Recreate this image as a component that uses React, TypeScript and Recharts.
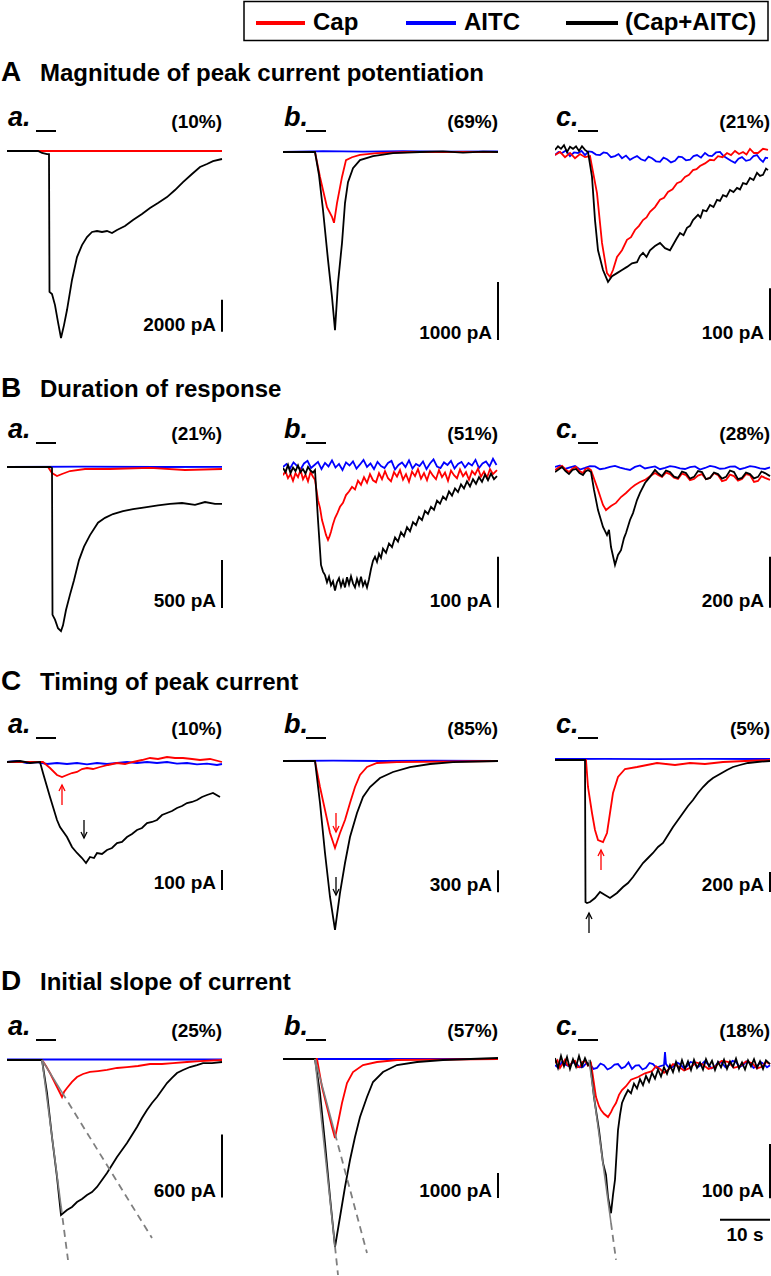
import { LineChart, Line, XAxis, YAxis, ReferenceLine, ReferenceDot } from 'recharts';

type Pt = [number, number]; // [time in s, current in pA]

const RED = '#ff0000';
const BLUE = '#0000ff';
const BLACK = '#000000';
const GREY = '#7f7f7f';
const FONT = "'Liberation Sans', Arial, Helvetica, sans-serif";

// ---------- A: magnitude of peak current potentiation ----------
const aaCap: Pt[] = [[0, 0], [10, 0], [25, 0], [43, 0]];
const aaAitc: Pt[] = [[0, 0], [43, 0]];
const aaMix: Pt[] = [[0, 0], [6.2, 0], [7, -125], [8, -190], [8.4, -190], [8.5, -8800], [9, -8940], [9.6, -9630], [10.2, -10690], [10.8, -11690], [11.4, -10880], [12, -9940], [13, -8060], [14, -6630], [15, -5880], [16, -5380], [17, -5060], [18, -5000], [19, -5060], [20, -5000], [21, -5130], [22, -4940], [23.6, -4690], [25.2, -4310], [27, -3940], [28.6, -3560], [30.2, -3250], [32, -2880], [33.6, -2440], [35.2, -1940], [37, -1440], [38.6, -1000], [40, -810], [41.2, -630], [43, -500]];

const abCap: Pt[] = [[0, 0], [6.4, 0], [7.4, -430], [8.8, -950], [9.8, -1120], [10.2, -1220], [10.8, -880], [11.8, -430], [12.6, -140], [13.8, -90], [15.4, -50], [18.8, -20], [25, 0], [43, 0]];
const abAitc: Pt[] = [[0, 0], [8, 15], [16, 5], [24, 15], [32, 5], [43, 10]];
const abMix: Pt[] = [[0, 0], [6.4, 0], [7.2, -400], [8, -1000], [9, -1860], [9.8, -2500], [10.4, -3070], [11, -2260], [11.8, -1570], [12.4, -880], [13, -520], [14, -280], [15.4, -140], [18, -70], [22, -20], [27.4, 0], [32, 10], [36, -10], [40, 5], [43, 0]];

const acCap: Pt[] = [[0, -4], [1, 2], [2, -8], [3, 0], [4, -10], [5, -2], [6, -8], [7, -6], [8.4, -77], [9.4, -173], [10.4, -231], [11, -238], [11.6, -225], [12.4, -200], [13.4, -187], [14.4, -167], [15.2, -162], [16, -148], [16.8, -140], [17.6, -129], [18.3, -124], [19, -113], [20, -104], [21, -90], [21.8, -86], [22.6, -75], [23.5, -70], [24.4, -58], [25.2, -55], [26, -46], [26.8, -42], [27.6, -33], [28.3, -31], [29, -25], [30, -20], [31, -13], [31.8, -14], [32.6, -6], [33.5, -8], [34.4, 0], [35.2, -4], [36, 4], [36.8, -2], [37.6, 2], [38.3, -3], [39, 8], [39.8, 0], [40.6, 0], [41.6, 8], [42.6, 6]];
const acAitc: Pt[] = [[0, -4], [0.7, 2], [1.4, 0], [2.2, 5], [3, -6], [3.8, 1], [4.6, 0], [5.3, 4], [6, -4], [6.7, 3], [7.4, 2], [8.2, -3], [9, -4], [9.7, 1], [10.4, 0], [11.2, -8], [12, -6], [12.7, -2], [13.4, -10], [14.2, -5], [15, -13], [15.7, -9], [16.4, -6], [17.2, -12], [18, -15], [18.7, -7], [19.4, -10], [20.2, -16], [21, -17], [21.7, -9], [22.4, -12], [23.2, -18], [24, -15], [24.7, -7], [25.4, -8], [26.2, -14], [27, -13], [27.7, -6], [28.4, -4], [29.2, -9], [30, 0], [30.7, -5], [31.4, -6], [32.2, 1], [33, 2], [33.7, -6], [34.4, -10], [35.2, -15], [36, -19], [36.7, -11], [37.4, -8], [38.2, -15], [39, -13], [39.7, -6], [40.4, -4], [41, -12], [41.6, -17], [42.1, -9], [42.6, -10]];
const acMix: Pt[] = [[0, 6], [0.6, 13], [1.2, 8], [1.8, 15], [2.4, 2], [3, 12], [3.6, 8], [4.2, 13], [4.8, 4], [5.4, 13], [6, 6], [6.6, 2], [7.4, -46], [8, -129], [8.6, -187], [9.6, -225], [10.6, -248], [11.4, -237], [12.4, -231], [13.4, -225], [14.4, -219], [15.4, -212], [16.4, -210], [17, -198], [17.6, -192], [18.3, -200], [19, -187], [20, -179], [21, -173], [22, -183], [23, -187], [23.6, -177], [24.3, -165], [25, -154], [25.7, -158], [26.4, -144], [27, -140], [27.6, -129], [28.6, -119], [29.1, -124], [29.6, -110], [30.3, -112], [31, -100], [31.7, -104], [32.4, -90], [33, -92], [33.6, -81], [34.3, -84], [35, -71], [35.7, -75], [36.4, -67], [37, -70], [37.6, -58], [38.3, -60], [39, -48], [39.7, -52], [40.4, -38], [41, -44], [41.6, -42], [42.2, -30], [42.6, -33]];

// ---------- B: duration of response ----------
const baCap: Pt[] = [[0, 0], [8.2, 0], [9, -63], [10, -94], [11, -73], [12.6, -42], [15.6, -21], [20.6, -21], [28.6, -10], [35.6, -31], [43, -21]];
const baAitc: Pt[] = [[0, 0], [15, 3], [30, 0], [43, 2]];
const baMix: Pt[] = [[0, 0], [8.6, 0], [9, -10], [9.1, -1540], [9.6, -1590], [10.2, -1680], [10.8, -1710], [11.2, -1650], [11.8, -1490], [12.6, -1330], [13.4, -1180], [14.4, -970], [15.4, -830], [16.6, -710], [18.2, -580], [19.6, -530], [21.2, -490], [23.2, -460], [25.2, -440], [27.6, -420], [30.2, -400], [32.6, -385], [35, -375], [37.6, -395], [39.6, -365], [41.6, -385], [43, -385]];

const bbCap: Pt[] = [[0, -16], [0.5, -8], [1, -22], [1.5, -14], [2, -27], [2.5, -12], [3, -20], [3.5, -6], [4, -24], [4.5, -15], [5, -28], [5.5, -10], [6, -19], [6.4, -25], [7, -65], [7.4, -80], [7.8, -104], [8.2, -118], [8.6, -133], [9, -143], [9.3, -136], [9.6, -127], [10, -112], [10.4, -100], [10.9, -90], [11.4, -78], [12, -70], [12.6, -55], [13.2, -48], [13.8, -39], [14.4, -44], [15, -27], [15.6, -35], [16.2, -20], [16.8, -31], [17.4, -14], [18, -26], [18.6, -30], [19.2, -12], [19.8, -24], [20.4, -8], [21, -22], [21.6, -28], [22.2, -10], [22.8, -19], [23.4, -6], [24, -25], [24.6, -14], [25.2, -29], [25.8, -9], [26.4, -18], [27, -4], [27.6, -23], [28.2, -12], [28.8, -26], [29.4, -8], [30, -17], [30.6, -24], [31.2, -6], [31.8, -20], [32.4, -11], [33, -27], [33.6, -7], [34.2, -16], [34.8, -22], [35.4, -5], [36, -18], [36.6, -10], [37.2, -25], [37.8, -8], [38.4, -15], [39, -3], [39.6, -19], [40.2, -9], [40.8, -21], [41.4, -4], [42, -14], [42.8, -6]];
const bbAitc: Pt[] = [[0, 0], [0.7, 6], [1.4, -3], [2.1, 9], [2.8, 2], [3.5, -5], [4.2, 7], [4.9, 12], [5.6, -2], [6.3, 4], [7, 10], [7.7, -4], [8.4, 8], [9.1, 1], [9.8, 13], [10.5, -1], [11.2, 6], [11.9, -6], [12.6, 9], [13.3, 3], [14, 11], [14.7, -3], [15.4, 5], [16.1, 14], [16.8, 0], [17.5, 7], [18.2, -4], [18.9, 10], [19.6, 2], [20.3, -2], [21, 8], [21.7, 12], [22.4, -5], [23.1, 4], [23.8, 9], [24.5, 0], [25.2, 13], [25.9, -3], [26.6, 6], [27.3, 2], [28, 11], [28.7, -4], [29.4, 7], [30.1, 15], [30.8, 1], [31.5, -2], [32.2, 9], [32.9, 4], [33.6, 12], [34.3, -3], [35, 6], [35.7, 10], [36.4, -1], [37.1, 8], [37.8, 3], [38.5, 14], [39.2, -2], [39.9, 7], [40.6, 11], [41.3, 1], [42, 16], [42.7, 4]];
const bbMix: Pt[] = [[0, -2], [0.5, -10], [1, 4], [1.5, -12], [2, -1], [2.5, -8], [3, 3], [3.5, -10], [4, -4], [4.5, -13], [5, 0], [5.5, -7], [6, -11], [6.4, -6], [7, -104], [7.6, -192], [8, -205], [8.4, -212], [8.8, -226], [9.2, -215], [9.6, -232], [10, -224], [10.4, -242], [10.8, -226], [11.2, -218], [11.6, -234], [12, -222], [12.4, -236], [12.8, -216], [13.2, -230], [13.6, -214], [14, -228], [14.4, -236], [14.8, -219], [15.2, -231], [15.6, -215], [16, -233], [16.4, -224], [16.8, -236], [17.2, -220], [17.6, -200], [18, -184], [18.4, -176], [18.8, -186], [19.2, -170], [19.6, -178], [20, -160], [20.6, -168], [21.2, -150], [21.8, -157], [22.4, -138], [23, -146], [23.6, -128], [24.2, -136], [24.8, -118], [25.4, -126], [26, -108], [26.6, -114], [27.2, -98], [27.8, -104], [28.4, -86], [29, -92], [29.6, -78], [30.2, -84], [30.8, -66], [31.4, -72], [32, -58], [32.6, -64], [33.2, -48], [33.8, -56], [34.4, -42], [35, -49], [35.6, -34], [36.2, -42], [36.8, -28], [37.4, -38], [38, -24], [38.6, -33], [39.2, -20], [39.8, -29], [40.4, -15], [41, -26], [41.6, -13], [42.2, -24], [42.8, -18]];

const bcCap: Pt[] = [[0, 0], [0.7, 10], [1.4, 16], [2.1, 2], [2.8, -8], [3.5, 6], [4.2, 12], [4.9, -4], [5.6, -12], [6.1, 4], [6.6, 8], [7.2, 0], [8.6, -78], [9.6, -137], [10.2, -157], [11.2, -141], [12.2, -129], [13.2, -106], [14.2, -90], [15.2, -71], [16, -59], [17, -47], [18, -39], [19, -24], [20, -12], [20.7, -20], [21.4, -27], [22.2, -10], [23, -16], [23.8, -30], [24.6, -35], [25.4, -14], [26.2, -20], [27, -40], [27.8, -35], [28.6, -22], [29.4, -16], [30.2, -36], [31, -31], [31.8, -12], [32.6, -20], [33.4, -44], [34.2, -39], [35, -18], [35.8, -24], [36.6, -42], [37.4, -35], [38.2, -16], [39, -20], [39.8, -47], [40.6, -43], [41.3, -24], [42, -31], [43, -39]];
const bcAitc: Pt[] = [[0, 12], [1, 18], [2, 4], [3, 10], [4, 16], [5, 2], [6, 8], [7, 15], [8, 14], [9, 3], [10, 6], [11, 12], [12, 16], [13, 9], [14, 4], [15, 0], [16, 12], [17, 18], [18, 6], [19, 10], [20, 14], [21, 3], [22, 8], [23, 15], [24, 12], [25, 6], [26, 4], [27, 11], [28, 14], [29, 2], [30, 8], [31, 16], [32, 12], [33, 5], [34, 6], [35, 13], [36, 14], [37, 3], [38, 8], [39, 15], [40, 12], [41, 6], [42, 4], [43, 10]];
const bcMix: Pt[] = [[0, -8], [0.7, 2], [1.4, 12], [2.1, -4], [2.8, -16], [3.5, 0], [4.2, 4], [4.9, -12], [5.6, -20], [6.1, -6], [6.6, 0], [7.2, -8], [7.8, -78], [8.6, -157], [9.6, -223], [10.4, -255], [10.8, -235], [11.2, -302], [12, -372], [12.6, -333], [13.2, -314], [13.8, -267], [14.2, -247], [15, -196], [15.6, -169], [16.4, -118], [17, -90], [18, -51], [19, -27], [20, 0], [20.7, -14], [21.4, -24], [22.2, -2], [23, -8], [23.8, -26], [24.6, -31], [25.4, -6], [26.2, -12], [27, -34], [27.8, -27], [28.6, -4], [29.4, -8], [30.2, -36], [31, -31], [31.8, -10], [32.6, -16], [33.4, -34], [34.2, -27], [35, -2], [35.8, -8], [36.6, -36], [37.4, -31], [38.2, -10], [39, -16], [39.8, -33], [40.6, -27], [41.3, -6], [42, -12], [43, -24]];

// ---------- C: timing of peak current ----------
const caCap: Pt[] = [[0, 0], [7.2, 0], [8.6, -30], [10, -65], [11, -75], [12, -65], [13, -55], [14, -50], [15, -35], [16, -30], [17.2, -35], [18.6, -25], [20.2, -15], [22, -5], [23.6, -10], [25.2, 0], [27, 10], [28.6, 20], [30.2, 15], [32, 25], [33.6, 20], [35.2, 20], [37, 15], [38.6, 10], [40.6, 15], [43, 0]];
const caAitc: Pt[] = [[0, 0], [2, 5], [4, -5], [6, 0], [8, -10], [10, -5], [12, -10], [14, -5], [16, -12], [18, -5], [20, -10], [22, -5], [24, 0], [26, -5], [28, 0], [30, -5], [32, 0], [34, -8], [36, -5], [38, -12], [40, -8], [42, -15], [43, -10]];
const caMix: Pt[] = [[0, 0], [2.6, 5], [4.6, -5], [6.6, 0], [7.2, -55], [8.6, -175], [10, -290], [10.6, -325], [12, -375], [13, -425], [14, -455], [15, -480], [15.8, -505], [16.6, -475], [17.4, -480], [18, -455], [19, -460], [20, -440], [21, -430], [22, -405], [23, -400], [24, -375], [25, -360], [26, -340], [27, -330], [28, -305], [29, -300], [30, -290], [31, -265], [32, -255], [33, -245], [34, -230], [35, -220], [36, -205], [37, -200], [38, -190], [39, -175], [40, -165], [41.2, -155], [42.6, -175]];

const cbCap: Pt[] = [[0, 0], [6.4, 0], [7.4, -355], [8.4, -668], [9.4, -982], [10.4, -1187], [11.4, -982], [12.4, -805], [13.4, -573], [14.4, -355], [15.4, -191], [16.8, -82], [18.8, -27], [22.8, -14], [43, 0]];
const cbAitc: Pt[] = [[0, 0], [10, 6], [20, 0], [30, 6], [43, 3]];
const cbMix: Pt[] = [[0, 0], [6.4, 0], [7.4, -573], [8.4, -1255], [9.4, -1855], [10.4, -2305], [11.4, -1800], [12.4, -1391], [13.4, -1037], [14.8, -709], [16, -491], [17.4, -355], [19.4, -232], [22, -150], [25.4, -82], [29.4, -41], [34, -14], [43, 0]];

const ccCap: Pt[] = [[0, 0], [6.2, 0], [6.6, -270], [7.4, -530], [8, -700], [8.6, -800], [9.6, -820], [10.4, -730], [11, -530], [11.6, -330], [12.6, -170], [14, -90], [16.4, -70], [20.4, -30], [24, -50], [27, -30], [30, -40], [33.6, -20], [38, -10], [43, 0]];
const ccAitc: Pt[] = [[0, 10], [10, 12], [20, 8], [30, 12], [43, 10]];
const ccMix: Pt[] = [[0, 0], [6, 0], [6.1, -1420], [6.4, -1430], [7, -1420], [8, -1380], [9, -1320], [10, -1350], [11, -1380], [12.4, -1330], [13.6, -1270], [14.6, -1230], [15.6, -1170], [16.6, -1100], [17.6, -1030], [18.6, -980], [19.6, -930], [20.6, -870], [21.6, -830], [22.6, -750], [23.6, -670], [24.6, -600], [25.6, -530], [26.6, -460], [27.6, -400], [28.6, -330], [29.6, -270], [30.6, -220], [31.6, -180], [33, -140], [34.4, -100], [35.6, -70], [37, -50], [38.6, -30], [40.4, -20], [43, -10]];

// ---------- D: initial slope of current ----------
const daCap: Pt[] = [[0, 0], [7, 0], [7.8, -57], [8.6, -124], [9.4, -200], [10, -257], [11, -352], [11.4, -305], [12, -267], [13, -209], [14, -162], [15.2, -133], [16.6, -114], [18.2, -105], [20, -95], [22, -76], [24, -67], [26.2, -57], [28.6, -38], [31, -38], [33.2, -29], [36, -19], [38.6, -10], [43, 0]];
const daAitc: Pt[] = [[0, 5], [43, 5]];
const daMix: Pt[] = [[0, 0], [7, 0], [8, -314], [9, -733], [10, -1114], [10.8, -1476], [12, -1428], [13, -1399], [14, -1352], [15, -1323], [16, -1285], [17, -1257], [18, -1209], [19, -1142], [20, -1076], [21, -1000], [22, -923], [23, -857], [24, -790], [25, -714], [26, -638], [27, -552], [28, -476], [29, -409], [30, -352], [31, -286], [32, -219], [33, -171], [34, -124], [35.2, -95], [36.6, -67], [38, -48], [39.2, -29], [41, -29], [43, -19]];

const dbCap: Pt[] = [[0, 0], [6.8, 0], [7.8, -1120], [8.8, -1920], [9.8, -2720], [10.4, -3160], [11, -2560], [11.8, -1760], [12.8, -960], [14, -520], [16, -240], [18.8, -120], [22.8, -40], [43, 0]];
const dbAitc: Pt[] = [[0, 0], [43, 0]];
const dbMix: Pt[] = [[0, 0], [6.4, 0], [7.4, -1360], [8.4, -3360], [9.4, -5520], [10.4, -7520], [11.4, -6320], [12.4, -5120], [13.4, -4040], [14.4, -3120], [15.4, -2320], [16.8, -1520], [18, -920], [20, -520], [22.8, -240], [26.8, -120], [32, -40], [43, 40]];

const dcCap: Pt[] = [[0, 0], [0.5, 5], [1, -9], [1.5, -2], [2, 6], [2.5, -4], [3, -6], [3.5, 3], [4, 4], [4.5, -8], [5, -7], [5.5, 2], [6, 4], [6.6, -5], [7.2, 0], [8.2, -63], [8.8, -80], [9.2, -87], [9.8, -94], [10.6, -100], [11.2, -91], [11.6, -83], [12.2, -74], [12.8, -59], [13.4, -50], [14.2, -43], [15.2, -31], [16.6, -26], [18, -19], [19.4, -15], [20.2, -6], [21, -11], [21.8, -18], [22.6, -13], [23.6, -2], [24.6, -6], [25.8, -14], [27, -9], [28.2, 1], [29.4, -2], [30.7, -11], [32, -7], [33.3, 4], [34.6, 2], [35.8, -9], [37, -6], [38.2, 3], [39.4, 0], [40.4, -10], [41.4, -7], [42.2, 2], [43, -2]];
const dcAitc: Pt[] = [[0, -4], [0.7, -9], [1.4, 2], [2.1, -3], [2.8, -6], [3.5, 1], [4.2, 0], [4.9, -8], [5.6, -7], [6.3, 0], [7, -2], [7.7, -11], [8.4, -9], [9.1, -1], [9.8, -4], [10.5, -12], [11.2, -9], [11.9, -3], [12.6, -2], [13.3, -10], [14, -7], [14.7, 1], [15.4, -11], [16.1, -5], [16.8, -4], [17.5, -12], [18.2, -9], [18.9, 0], [19.6, -2], [20.3, -9], [21, -6], [21.8, -4], [22, 20], [22.2, -2], [22.9, -10], [23.6, -7], [24.3, 1], [25, -2], [25.7, -9], [26.4, -6], [27.1, 2], [27.8, 0], [28.5, -8], [29.2, -4], [29.9, 3], [30.6, -2], [31.3, -10], [32, -6], [32.7, 2], [33.4, 0], [34.1, -8], [34.8, -4], [35.5, 4], [36.2, 2], [36.9, -7], [37.6, -4], [38.3, 3], [39, 0], [39.7, -9], [40.4, -6], [41.1, 2], [41.8, -2], [42.4, -8], [43, -4]];
const dcMix: Pt[] = [[0, 9], [0.6, -9], [1.2, 13], [1.8, -6], [2.4, 11], [3, -11], [3.6, 7], [4.2, -7], [4.8, 13], [5.4, -6], [6, 9], [6.6, -4], [7, 2], [7.8, -63], [8.8, -124], [9.6, -185], [10.2, -207], [10.6, -248], [11.2, -278], [11.6, -244], [12, -216], [12.6, -124], [13, -96], [13.4, -74], [14, -61], [14.6, -50], [15.2, -56], [15.8, -38], [16.4, -47], [17, -30], [17.6, -41], [18.2, -24], [18.8, -35], [19.4, -18], [20, -29], [20.6, -12], [21.2, -25], [21.8, -8], [22.4, -20], [23, -4], [23.6, -17], [24.2, 2], [24.8, -14], [25.4, 5], [26, -11], [26.6, 3], [27.2, -13], [27.8, 6], [28.4, -9], [29, 1], [29.6, -12], [30.2, 7], [30.8, -6], [31.4, 4], [32, -13], [32.6, 2], [33.2, -8], [33.8, 6], [34.4, -11], [35, 3], [35.6, -7], [36.2, 8], [36.8, -10], [37.4, 1], [38, -12], [38.6, 5], [39.2, -6], [39.8, 7], [40.4, -9], [41, 3], [41.6, -11], [42.2, 5], [43, -2]];

// slope fits in D: start, end of the fitted part, end of the extrapolation
type Slope = { from: Pt; knee: Pt; to: Pt };
const daSlopes: Slope[] = [
  { from: [7, 0], knee: [10.8, -1391], to: [12.2, -1904] },
  { from: [7, 0], knee: [11, -308], to: [29, -1695] },
];
const dbSlopes: Slope[] = [
  { from: [6.4, 0], knee: [10.4, -7500], to: [11, -8640] },
  { from: [6.4, 0], knee: [10.4, -2985], to: [16.8, -7760] },
];
const dcSlopes: Slope[] = [{ from: [6.8, 6], knee: [11.2, -296], to: [12.2, -364] }];

// peak markers in C: time, tail, tip (pA)
type Arrow = { t: number; tail: number; tip: number; color: string };
const caArrows: Arrow[] = [
  { t: 11, tail: -215, tip: -115, color: RED },
  { t: 15.4, tail: -290, tip: -380, color: BLACK },
];
const cbArrows: Arrow[] = [
  { t: 10.6, tail: -709, tip: -968, color: RED },
  { t: 10.6, tail: -1582, tip: -1828, color: BLACK },
];
const ccArrows: Arrow[] = [
  { t: 9.2, tail: -1100, tip: -900, color: RED },
  { t: 6.8, tail: -1730, tip: -1530, color: BLACK },
];

const PX_PER_S = 5;
const T_MAX = 45;
const PANEL_W = T_MAX * PX_PER_S;
const BAR_T = 43;

const ROWS = [
  { letter: 'A', title: 'Magnitude of peak current potentiation', titleY: 81, barY: 131, top: 124, bottom: 348 },
  { letter: 'B', title: 'Duration of response', titleY: 397, barY: 443, top: 436, bottom: 640 },
  { letter: 'C', title: 'Timing of peak current', titleY: 690, barY: 738, top: 731, bottom: 945 },
  { letter: 'D', title: 'Initial slope of current', titleY: 990, barY: 1040, top: 1033, bottom: 1276 },
];
const COLS = [
  { tag: 'a.', left: 7, stim: [5.8, 9.8] },
  { tag: 'b.', left: 283, stim: [4.6, 8.6] },
  { tag: 'c.', left: 555, stim: [4.6, 8.6] },
];

interface PanelSpec {
  row: number;
  col: number;
  pct: string;
  base: number; // baseline, page px
  k: number; // pA per px
  cap: Pt[];
  aitc: Pt[];
  mix: Pt[];
  scale: string;
  scaleLow: number;
  scaleHigh: number;
  slopes?: Slope[];
  arrows?: Arrow[];
  timeBar?: boolean;
}

const PANELS: PanelSpec[] = [
  { row: 0, col: 0, pct: '(10%)', base: 151, k: 62.5, cap: aaCap, aitc: aaAitc, mix: aaMix, scale: '2000 pA', scaleLow: -11300, scaleHigh: -9300 },
  { row: 0, col: 1, pct: '(69%)', base: 152, k: 17.24, cap: abCap, aitc: abAitc, mix: abMix, scale: '1000 pA', scaleLow: -3240, scaleHigh: -2240 },
  { row: 0, col: 2, pct: '(21%)', base: 153, k: 1.923, cap: acCap, aitc: acAitc, mix: acMix, scale: '100 pA', scaleLow: -360, scaleHigh: -260 },
  { row: 1, col: 0, pct: '(21%)', base: 467, k: 10.42, cap: baCap, aitc: baAitc, mix: baMix, scale: '500 pA', scaleLow: -1470, scaleHigh: -970 },
  { row: 1, col: 1, pct: '(51%)', base: 467, k: 1.96, cap: bbCap, aitc: bbAitc, mix: bbMix, scale: '100 pA', scaleLow: -276, scaleHigh: -176 },
  { row: 1, col: 2, pct: '(28%)', base: 470, k: 3.92, cap: bcCap, aitc: bcAitc, mix: bcMix, scale: '200 pA', scaleLow: -540, scaleHigh: -340 },
  { row: 2, col: 0, pct: '(10%)', base: 762, k: 5, cap: caCap, aitc: caAitc, mix: caMix, scale: '100 pA', scaleLow: -640, scaleHigh: -540, arrows: caArrows },
  { row: 2, col: 1, pct: '(85%)', base: 761, k: 13.64, cap: cbCap, aitc: cbAitc, mix: cbMix, scale: '300 pA', scaleLow: -1790, scaleHigh: -1490, arrows: cbArrows },
  { row: 2, col: 2, pct: '(5%)', base: 760, k: 10, cap: ccCap, aitc: ccAitc, mix: ccMix, scale: '200 pA', scaleLow: -1320, scaleHigh: -1120, arrows: ccArrows },
  { row: 3, col: 0, pct: '(25%)', base: 1060, k: 9.52, cap: daCap, aitc: daAitc, mix: daMix, scale: '600 pA', scaleLow: -1310, scaleHigh: -710, slopes: daSlopes },
  { row: 3, col: 1, pct: '(57%)', base: 1059, k: 40, cap: dbCap, aitc: dbAitc, mix: dbMix, scale: '1000 pA', scaleLow: -5560, scaleHigh: -4560, slopes: dbSlopes },
  { row: 3, col: 2, pct: '(18%)', base: 1063, k: 1.85, cap: dcCap, aitc: dcAitc, mix: dcMix, scale: '100 pA', scaleLow: -250, scaleHigh: -150, slopes: dcSlopes, timeBar: true },
];

const TIME_BAR_S = 10;
const TIME_BAR_LEVEL = -290;

const rows = (pts: Pt[]) => pts.map(([t, v]) => ({ t, v }));

const scaleLabel = (text: string) => (props: any) => {
  const vb = props.viewBox || {};
  return (
    <text x={vb.x - 6} y={vb.y + vb.height - 1} textAnchor="end" fontFamily={FONT} fontWeight="bold" fontSize={19} fill={BLACK}>
      {text}
    </text>
  );
};

const timeLabel = (text: string) => (props: any) => {
  const vb = props.viewBox || {};
  return (
    <text x={vb.x + vb.width / 2} y={vb.y + 21} textAnchor="middle" fontFamily={FONT} fontWeight="bold" fontSize={19} fill={BLACK}>
      {text}
    </text>
  );
};

const arrowHead = (down: boolean, color: string) => (props: any) => {
  const { cx, cy } = props;
  const s = down ? -1 : 1;
  return <path d={`M${cx - 3},${cy + 6 * s} L${cx},${cy} L${cx + 3},${cy + 6 * s}`} stroke={color} strokeWidth={1.3} fill="none" />;
};

function Panel({ p }: { p: PanelSpec }) {
  const row = ROWS[p.row];
  const col = COLS[p.col];
  const height = row.bottom - row.top;
  const yDomain = [-(row.bottom - p.base) * p.k, (p.base - row.top) * p.k];
  const stimLevel = (p.base - row.barY) * p.k;
  const stim: Pt[] = [[col.stim[0], stimLevel], [col.stim[1], stimLevel]];
  return (
    <div style={{ position: 'absolute', left: col.left, top: row.top }}>
      <LineChart width={PANEL_W} height={height} margin={{ top: 0, right: 0, bottom: 0, left: 0 }}>
        <XAxis type="number" dataKey="t" domain={[0, T_MAX]} hide allowDataOverflow />
        <YAxis type="number" dataKey="v" domain={yDomain} hide allowDataOverflow />
        <Line data={rows(stim)} dataKey="v" stroke={BLACK} strokeWidth={2} dot={false} isAnimationActive={false} />
        <Line data={rows(p.aitc)} dataKey="v" stroke={BLUE} strokeWidth={1.8} dot={false} isAnimationActive={false} />
        <Line data={rows(p.cap)} dataKey="v" stroke={RED} strokeWidth={1.8} dot={false} isAnimationActive={false} />
        <Line data={rows(p.mix)} dataKey="v" stroke={BLACK} strokeWidth={1.8} dot={false} isAnimationActive={false} />
        {(p.slopes || []).map((s, i) => (
          <Line key={`sd${i}`} data={rows([s.knee, s.to])} dataKey="v" stroke={GREY} strokeWidth={1.8} strokeDasharray="7 5" dot={false} isAnimationActive={false} />
        ))}
        {(p.slopes || []).map((s, i) => (
          <Line key={`ss${i}`} data={rows([s.from, s.knee])} dataKey="v" stroke={GREY} strokeWidth={1.6} dot={false} isAnimationActive={false} />
        ))}
        {(p.arrows || []).map((a, i) => (
          <Line key={`as${i}`} data={rows([[a.t, a.tail], [a.t, a.tip]])} dataKey="v" stroke={a.color} strokeWidth={1.3} dot={false} isAnimationActive={false} />
        ))}
        {(p.arrows || []).map((a, i) => (
          <ReferenceDot key={`ah${i}`} x={a.t} y={a.tip} r={3} ifOverflow="visible" shape={arrowHead(a.tip < a.tail, a.color)} />
        ))}
        <ReferenceLine
          segment={[{ x: BAR_T, y: p.scaleHigh }, { x: BAR_T, y: p.scaleLow }]}
          stroke={BLACK}
          strokeWidth={2}
          ifOverflow="visible"
          label={scaleLabel(p.scale)}
        />
        {p.timeBar && (
          <ReferenceLine
            segment={[{ x: BAR_T - TIME_BAR_S, y: TIME_BAR_LEVEL }, { x: BAR_T, y: TIME_BAR_LEVEL }]}
            stroke={BLACK}
            strokeWidth={2}
            ifOverflow="visible"
            label={timeLabel(`${TIME_BAR_S} s`)}
          />
        )}
      </LineChart>
    </div>
  );
}

const LEGEND = [
  { name: 'Cap', color: RED, x1: 256, x2: 305, tx: 313 },
  { name: 'AITC', color: BLUE, x1: 406, x2: 456, tx: 464 },
  { name: '(Cap+AITC)', color: BLACK, x1: 566, x2: 618, tx: 625 },
];

export default function App() {
  return (
    <div style={{ position: 'absolute', left: 0, top: 0, width: 771, height: 1276, background: '#fff', overflow: 'hidden' }}>
      <svg width={771} height={1276} style={{ position: 'absolute', left: 0, top: 0 }}>
        <rect x={244} y={1.5} width={524} height={39} fill="none" stroke={BLACK} strokeWidth={1.5} />
        {LEGEND.map((l) => (
          <g key={l.name}>
            <line x1={l.x1} x2={l.x2} y1={23} y2={23} stroke={l.color} strokeWidth={4} />
            <text x={l.tx} y={30} fontFamily={FONT} fontWeight="bold" fontSize={24} fill={BLACK}>
              {l.name}
            </text>
          </g>
        ))}
        {ROWS.map((r) => (
          <g key={r.letter}>
            <text x={1} y={r.titleY} fontFamily={FONT} fontWeight="bold" fontSize={28} fill={BLACK}>
              {r.letter}
            </text>
            <text x={40} y={r.titleY} fontFamily={FONT} fontWeight="bold" fontSize={24} fill={BLACK}>
              {r.title}
            </text>
          </g>
        ))}
        {PANELS.map((p, i) => {
          const r = ROWS[p.row];
          const c = COLS[p.col];
          return (
            <g key={i}>
              <text x={c.left + 1} y={r.barY - 5} fontFamily={FONT} fontWeight="bold" fontStyle="italic" fontSize={27} fill={BLACK}>
                {c.tag}
              </text>
              <text x={c.left + 215} y={r.barY - 3} textAnchor="end" fontFamily={FONT} fontWeight="bold" fontSize={19} fill={BLACK}>
                {p.pct}
              </text>
            </g>
          );
        })}
      </svg>
      {PANELS.map((p, i) => (
        <Panel key={i} p={p} />
      ))}
    </div>
  );
}
